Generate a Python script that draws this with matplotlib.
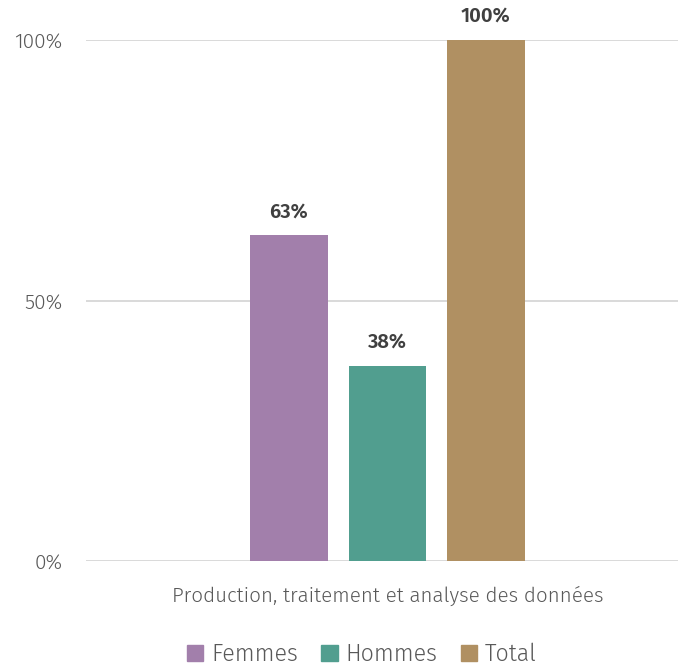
import matplotlib.pyplot as plt
from matplotlib.patches import Patch

categorie = "Production, traitement et analyse des données"
series = ["Femmes", "Hommes", "Total"]
valeurs = [62.5, 37.5, 100]
etiquettes = ["63%", "38%", "100%"]
couleurs = ["#a27fab", "#519e8f", "#b09062"]

plt.rcParams['font.family'] = ['Fira Sans', 'DejaVu Sans']
plt.rcParams['font.weight'] = 300

fig = plt.figure(figsize=(6.78, 6.68), dpi=100)
ax = fig.add_axes([86/678, 1 - 561/668, (678-86)/678, 521/668])

pos = [-1, 0, 1]
ax.bar(pos, valeurs, width=0.79, color=couleurs, zorder=3)
for x, v, t in zip(pos, valeurs, etiquettes):
    ax.annotate(t, (x, v), xytext=(0, 10), textcoords='offset points',
                ha='center', va='bottom', fontsize=14.5, fontweight=600,
                color='#404040', annotation_clip=False)

ax.set_xlim(-3.06, 2.95)
ax.set_ylim(0, 100)
ax.set_yticks([0, 50, 100])
ax.set_yticklabels(["0%", "50%", "100%"], fontsize=15, color='#595959')
ax.set_xticks([0])
ax.set_xticklabels([categorie], fontsize=14.8, color='#595959')
ax.tick_params(axis='both', length=0)
ax.tick_params(axis='y', pad=17)
ax.tick_params(axis='x', pad=18)
ax.grid(axis='y', color='#d9d9d9', linewidth=1.4, zorder=0)
for s in ax.spines.values():
    s.set_visible(False)

handles = [Patch(color=c, label=s) for c, s in zip(couleurs, series)]
fig.legend(handles=handles, loc='center', bbox_to_anchor=(362/678, 1 - 654/668),
           ncol=3, frameon=False, fontsize=16.7, handlelength=0.7, handleheight=0.7,
           handletextpad=0.35, columnspacing=1.0, labelcolor='#595959')

fig.savefig("out.png", dpi=100)
